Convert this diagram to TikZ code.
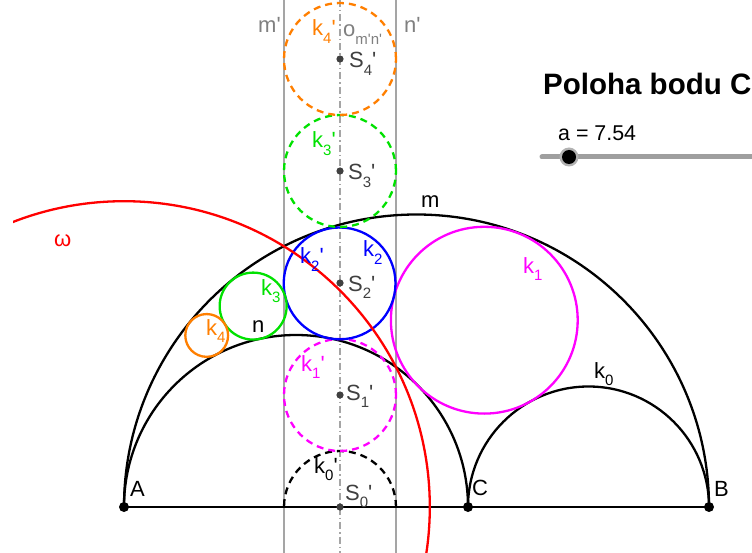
\documentclass[tikz,border=0pt]{standalone}
\usepackage{fontspec}
\setmainfont{Liberation Sans}
\definecolor{ggred}{RGB}{255,0,0}
\definecolor{ggmag}{RGB}{255,0,255}
\definecolor{gggreen}{RGB}{0,225,0}
\definecolor{ggorange}{RGB}{255,127,0}
\definecolor{ggblue}{RGB}{0,0,255}
\definecolor{gggray}{RGB}{165,165,165}
\definecolor{ptgray}{RGB}{64,64,64}
\definecolor{lblgray}{RGB}{128,128,128}
\newcommand\pr{\textquotesingle}
\newcommand\sbs[1]{\raisebox{-7.5pt}{\fontsize{15}{15}\selectfont #1}}
\tikzset{
  curve/.style={line width=2.3pt},
  dsh/.style={line width=2.3pt, dash pattern=on 7pt off 5pt},
  vline/.style={gggray, line width=1.5pt},
  axisline/.style={gggray, line width=1.3pt, dash pattern=on 7pt off 3pt on 1.5pt off 3pt},
  lbl/.style={anchor=base west, inner sep=0pt, font=\fontsize{22}{22}\selectfont},
  bigpt/.style={fill=black},
  smallpt/.style={fill=ptgray},
}
\begin{document}
\begin{tikzpicture}[x=1pt,y=-1pt]
\clip (0,0) rectangle (752,553);
\fill[white] (0,0) rectangle (752,553);
% points
\coordinate (A) at (124,507);
\coordinate (C) at (468,507);
\coordinate (B) at (709,507);
\coordinate (S0) at (340,507);
\coordinate (S1) at (340,395);
\coordinate (S2) at (340,283);
\coordinate (S3) at (340,171);
\coordinate (S4) at (340,59);
\coordinate (K1) at (484.3,320.2);
\coordinate (K2) at (339.6,283.4);
\coordinate (K3) at (253.15,306.1);
\coordinate (K4) at (206.7,335.45);
\coordinate (mtop) at (284,0);
\coordinate (mbot) at (284,553);
\coordinate (ntop) at (396,0);
\coordinate (nbot) at (396,553);
\coordinate (otop) at (340,0);
\coordinate (obot) at (340,553);
\coordinate (k0pR) at (396,507);
% lines m', n', axis
\draw[vline] (mtop) -- (mbot);
\draw[vline] (ntop) -- (nbot);
\draw[axisline] (otop) -- (obot);
% arbelos
\draw[curve] (B) arc[start angle=0,end angle=180,radius=292.5pt];
\draw[curve] (C) arc[start angle=0,end angle=180,radius=172pt];
\draw[curve] (B) arc[start angle=0,end angle=180,radius=120.5pt];
\draw[dsh] (k0pR) arc[start angle=0,end angle=180,radius=56pt];
\draw[line width=2pt] (A) -- (B);
% chain circles
\draw[ggmag,curve] (K1) circle[radius=93.4pt];
\draw[ggmag,dsh] (S1) circle[radius=56pt];
\draw[ggblue,curve] (K2) circle[radius=55.9pt];
\draw[gggreen,curve] (K3) circle[radius=33.5pt];
\draw[gggreen,dsh] (S3) circle[radius=56pt];
\draw[ggorange,curve] (K4) circle[radius=21.4pt];
\draw[ggorange,dsh] (S4) circle[radius=56pt];
% inversion circle
\begin{scope}
\clip (13,0) rectangle (752,553);
\draw[ggred,curve] (A) circle[radius=305.8pt];
\end{scope}
% points
\fill[bigpt] (A) circle[radius=5pt];
\fill[bigpt] (B) circle[radius=5pt];
\fill[bigpt] (C) circle[radius=5pt];
\foreach \s in {S0,S1,S2,S3,S4} \fill[smallpt] (\s) circle[radius=3.6pt];
% labels
\node[lbl,text=lblgray] (lm) at (258,33) {m\pr};
\node[lbl,text=lblgray] (ln) at (404,33) {n\pr};
\node[lbl,text=lblgray] (lo) at (343,37) {o\sbs{m\pr n\pr}};
\node[lbl,text=ggorange] (lk4p) at (312,36) {k\sbs{4}\pr};
\node[lbl,text=ptgray] (lS4) at (349,68) {S\sbs{4}\pr};
\node[lbl,text=gggreen] (lk3p) at (312,148) {k\sbs{3}\pr};
\node[lbl,text=ptgray] (lS3) at (348,180) {S\sbs{3}\pr};
\node[lbl] (lmm) at (421,208) {m};
\node[lbl,text=ggred] (lw) at (54,247) {ω};
\node[lbl,text=ggblue] (lk2p) at (300,264) {k\sbs{2}\pr};
\node[lbl,text=ggblue] (lk2) at (363,257) {k\sbs{2}};
\node[lbl,text=ptgray] (lS2) at (348,291) {S\sbs{2}\pr};
\node[lbl,text=ggmag] (lk1) at (523,273) {k\sbs{1}};
\node[lbl,text=gggreen] (lk3) at (261,295) {k\sbs{3}};
\node[lbl,text=ggorange] (lk4) at (206,335) {k\sbs{4}};
\node[lbl] (lnn) at (252,332) {n};
\node[lbl,text=ggmag] (lk1p) at (301,371) {k\sbs{1}\pr};
\node[lbl,text=ptgray] (lS1) at (346,400) {S\sbs{1}\pr};
\node[lbl] (lk0) at (594,378) {k\sbs{0}};
\node[lbl] (lk0p) at (314,473) {k\sbs{0}\pr};
\node[lbl,text=ptgray] (lS0) at (345,500) {S\sbs{0}\pr};
\node[lbl] (lA) at (130,496) {A};
\node[lbl] (lC) at (472,495) {C};
\node[lbl] (lB) at (714,496) {B};
% title and slider
\node[anchor=base west,inner sep=0pt,font=\fontsize{29.5}{29.5}\selectfont\bfseries] (title) at (543,95) {Poloha bodu C};
\node[anchor=base west,inner sep=0pt,font=\fontsize{21.4}{21.4}\selectfont] (aval) at (558,141) {a = 7.54};
\coordinate (sl0) at (542,157);
\coordinate (sl1) at (760,157);
\coordinate (knob) at (569,157);
\draw[line width=5pt,gray!75,line cap=round] (sl0) -- (sl1);
\fill[gray!60] (knob) circle[radius=9.5pt];
\fill[black] (knob) circle[radius=7pt];
\end{tikzpicture}
\end{document}
